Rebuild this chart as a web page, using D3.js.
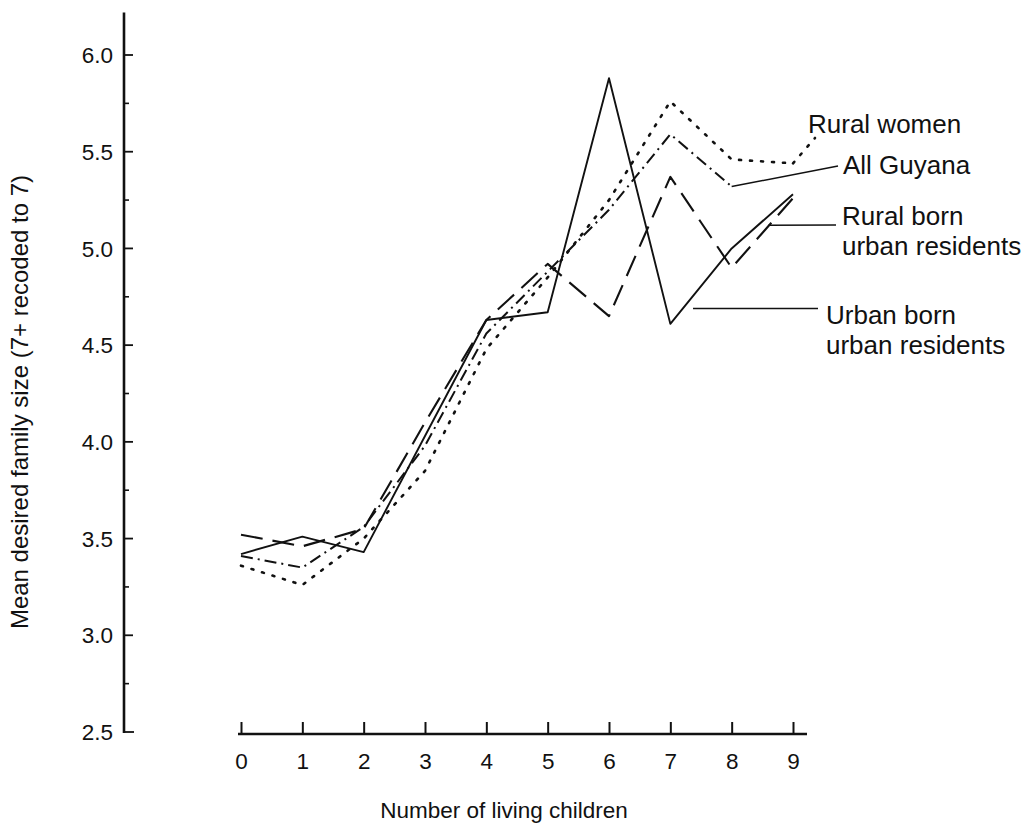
<!DOCTYPE html>
<html>
<head>
<meta charset="utf-8">
<script src="https://cdn.jsdelivr.net/npm/d3@7"></script>
<style>
  html, body { margin: 0; padding: 0; background: #fff; }
  svg { display: block; }
  text { font-family: "Liberation Sans", Arial, Helvetica, sans-serif; fill: #111; }
</style>
</head>
<body>
<svg id="chart" width="1030" height="827"></svg>
<script>
// ---- data ----
const children = [0, 1, 2, 3, 4, 5, 6, 7, 8, 9];
const urbanBorn  = [3.42, 3.51, 3.43, 4.03, 4.63, 4.67, 5.88, 4.61, 5.00, 5.28];
const ruralBorn  = [3.52, 3.46, 3.55, 4.10, 4.63, 4.92, 4.65, 5.37, 4.90, 5.26];
const allGuyana  = [3.41, 3.35, 3.56, 3.98, 4.56, 4.88, 5.20, 5.59, 5.32, null];
const ruralWomen = [3.36, 3.26, 3.50, 3.85, 4.48, 4.85, 5.25, 5.76, 5.46, 5.44];
const yTicks = [2.5, 3.0, 3.5, 4.0, 4.5, 5.0, 5.5, 6.0];
const yMinorTicks = [2.75, 3.25, 3.75, 4.25, 4.75, 5.25, 5.75];
const seriesNames = ["Urban born urban residents", "Rural born urban residents", "All Guyana", "Rural women"];

// ---- layout ----
const svg = d3.select("#chart");
const x = d3.scaleLinear().domain([0, 9]).range([241, 793]);
const y = d3.scaleLinear().domain([2.5, 6.0]).range([732, 55]);
const ink = "#111";

// ---- y axis ----
const yAxisX = 124;
const gy = svg.append("g").attr("transform", `translate(${yAxisX},0)`);
gy.append("line").attr("x1", 0).attr("x2", 0)
  .attr("y1", y(2.5) + 1).attr("y2", y(6.22))
  .attr("stroke", ink).attr("stroke-width", 2.6);
gy.selectAll(".major").data(yTicks).join("line")
  .attr("x1", 0).attr("x2", d => d === 2.5 ? 10 : 9)
  .attr("y1", d => y(d)).attr("y2", d => y(d))
  .attr("stroke", ink).attr("stroke-width", 1.8);
gy.selectAll(".minor").data(yMinorTicks).join("line")
  .attr("x1", 0).attr("x2", 5)
  .attr("y1", d => y(d)).attr("y2", d => y(d))
  .attr("stroke", ink).attr("stroke-width", 1.6);
gy.selectAll(".lab").data(yTicks).join("text")
  .attr("x", -11).attr("y", d => y(d)).attr("dy", "0.36em")
  .attr("text-anchor", "end").attr("font-size", 22.5)
  .text(d => d.toFixed(1));

svg.append("text")
  .attr("transform", "translate(28,402) rotate(-90)")
  .attr("text-anchor", "middle").attr("font-size", 24)
  .text("Mean desired family size (7+ recoded to 7)");

// ---- x axis ----
const xAxisY = 734;
const xAxis = d3.axisBottom(x).tickValues(children).tickSize(-12).tickPadding(19)
  .tickFormat(d3.format("d"));
const gx = svg.append("g").attr("transform", `translate(0,${xAxisY})`).call(xAxis);
gx.select(".domain").remove();
gx.append("line").attr("x1", x(0) - 3).attr("x2", 807).attr("y1", 0).attr("y2", 0)
  .attr("stroke", ink).attr("stroke-width", 2.4);
gx.selectAll(".tick line").attr("stroke", ink).attr("stroke-width", 2);
gx.selectAll(".tick text").attr("font-size", 22.5).attr("fill", ink)
  .style("font-family", '"Liberation Sans", Arial, sans-serif');

svg.append("text")
  .attr("x", 504).attr("y", 818).attr("text-anchor", "middle").attr("font-size", 22.5)
  .text("Number of living children");

// ---- series ----
const line = d3.line().defined(d => d[1] != null).x(d => x(d[0])).y(d => y(d[1]));
const pairs = arr => children.map((c, i) => [c, arr[i]]);

const styles = [
  { data: urbanBorn,  dash: null,            w: 1.9 },
  { data: ruralBorn,  dash: "22,10",         w: 2.1 },
  { data: allGuyana,  dash: "12,5,2,5",      w: 2.0 },
  { data: ruralWomen, dash: "2,9",           w: 2.6 }
];
svg.selectAll(".series").data(styles).join("path")
  .attr("d", s => line(pairs(s.data)))
  .attr("fill", "none").attr("stroke", ink)
  .attr("stroke-width", s => s.w)
  .attr("stroke-dasharray", s => s.dash)
  .attr("stroke-linecap", s => s.dash === "2,9" ? "round" : "butt")
  .attr("stroke-linejoin", "round");

// ---- labels with leaders ----
const fs = 26;
// Rural women: dotted continuation to label
svg.append("line")
  .attr("x1", x(9)).attr("y1", y(ruralWomen[9]))
  .attr("x2", 815).attr("y2", 138)
  .attr("stroke", ink).attr("stroke-width", 2.6)
  .attr("stroke-dasharray", "2,9").attr("stroke-linecap", "round");
svg.append("text").attr("x", 808).attr("y", 133).attr("font-size", fs).text("Rural women");

// All Guyana
svg.append("line")
  .attr("x1", x(8)).attr("y1", y(allGuyana[8]))
  .attr("x2", 838).attr("y2", 166)
  .attr("stroke", ink).attr("stroke-width", 1.5);
svg.append("text").attr("x", 843).attr("y", 174).attr("font-size", fs).text("All Guyana");

// Rural born urban residents
svg.append("line")
  .attr("x1", x(8.6)).attr("y1", y(5.12))
  .attr("x2", 836).attr("y2", 225)
  .attr("stroke", ink).attr("stroke-width", 1.5);
const t1 = svg.append("text").attr("x", 842).attr("y", 225).attr("font-size", fs);
t1.append("tspan").attr("x", 842).text("Rural born");
t1.append("tspan").attr("x", 842).attr("dy", 30).text("urban residents");

// Urban born urban residents
svg.append("line")
  .attr("x1", x(7.37)).attr("y1", y(4.69))
  .attr("x2", 818).attr("y2", y(4.69))
  .attr("stroke", ink).attr("stroke-width", 1.5);
const t2 = svg.append("text").attr("x", 826).attr("y", 324).attr("font-size", fs);
t2.append("tspan").attr("x", 826).text("Urban born");
t2.append("tspan").attr("x", 826).attr("dy", 30).text("urban residents");
</script>
</body>
</html>
